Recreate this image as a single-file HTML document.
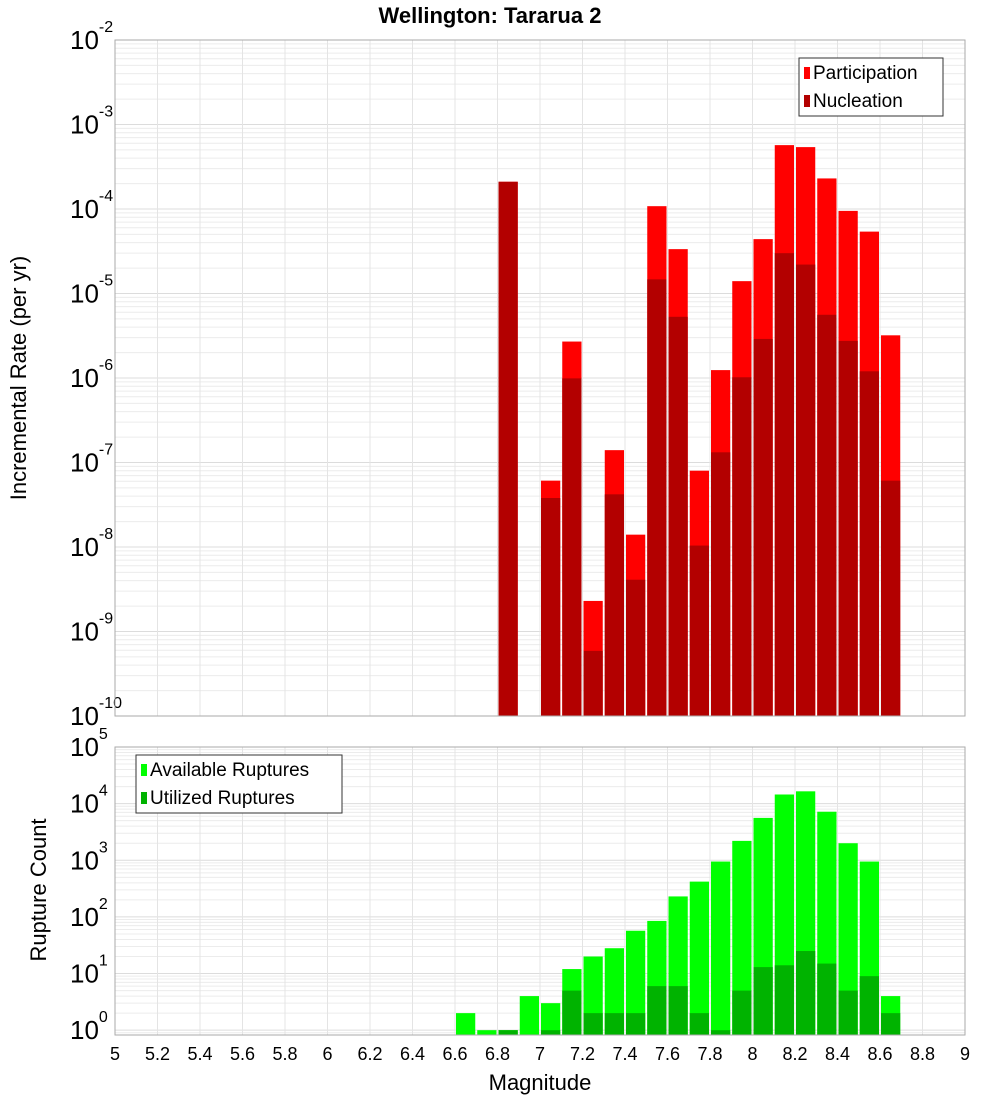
<!DOCTYPE html>
<html><head><meta charset="utf-8"><style>
body{margin:0;background:#fff;}
svg text{font-family:"Liberation Sans","DejaVu Sans",sans-serif;}
</style></head><body>
<svg id="chart" width="1000" height="1100" xmlns="http://www.w3.org/2000/svg">
<text x="490" y="23" text-anchor="middle" font-size="22" font-weight="bold">Wellington: Tararua 2</text>
<g id="top"></g><g id="bot"></g>
<text transform="translate(26,378) rotate(-90)" text-anchor="middle" font-size="22">Incremental Rate (per yr)</text>
<text transform="translate(46,890) rotate(-90)" text-anchor="middle" font-size="22">Rupture Count</text>
<text x="540" y="1090" text-anchor="middle" font-size="22">Magnitude</text>
</svg>
<script>
const mags=[6.6,6.7,6.8,6.9,7.0,7.1,7.2,7.3,7.4,7.5,7.6,7.7,7.8,7.9,8.0,8.1,8.2,8.3,8.4,8.5,8.6];
const participation=[0,0,2.1e-4,0,6.1e-8,2.7e-6,2.3e-9,1.4e-7,1.4e-8,1.08e-4,3.35e-5,8e-8,1.24e-6,1.4e-5,4.4e-5,5.7e-4,5.4e-4,2.3e-4,9.5e-5,5.4e-5,3.2e-6];
const nucleation=[0,0,2.1e-4,0,3.8e-8,9.9e-7,5.9e-10,4.2e-8,4.1e-9,1.47e-5,5.3e-6,1.04e-8,1.32e-7,1.02e-6,2.9e-6,3.0e-5,2.2e-5,5.6e-6,2.75e-6,1.2e-6,6.1e-8];
const available=[2,1,1,4,3,12,20,28,57,85,230,420,950,2200,5600,14500,16500,7200,2000,950,4];
const utilized=[0,0,1,0,1,5,2,2,2,6,6,2,1,5,13,14,25,15,5,9,2];
const xTicks=[5,5.2,5.4,5.6,5.8,6,6.2,6.4,6.6,6.8,7,7.2,7.4,7.6,7.8,8,8.2,8.4,8.6,8.8,9];
const topExps=[-2,-3,-4,-5,-6,-7,-8,-9,-10];
const botExps=[5,4,3,2,1,0];
const NS="http://www.w3.org/2000/svg";
const X0=115,X1=965;
const xs=m=>X0+(m-5)/4*(X1-X0);
function mk(p,t,a){const e=document.createElementNS(NS,t);for(const k in a)e.setAttribute(k,a[k]);p.appendChild(e);return e;}
function panel(g,top,bot,lmax,lmin,exps,name){
  const ys=v=>top+(lmax-Math.log10(v))/(lmax-lmin)*(bot-top);
  for(let d=Math.floor(lmin);d<lmax;d++)for(let k=1;k<10;k++){const y=ys(k*Math.pow(10,d));if(y<top||y>bot)continue;
    const l=mk(g,'line',{x1:X0,x2:X1,y1:y,y2:y,stroke:k==1?'#dcdcdc':'#ececec','stroke-width':1});
    }
  xTicks.forEach(t=>{const l=mk(g,'line',{x1:xs(t),x2:xs(t),y1:top,y2:bot,stroke:'#e4e4e4','stroke-width':1});
    });
  exps.forEach(e=>{const y=ys(Math.pow(10,e));const t=mk(g,'text',{x:70,y:y+9,'font-size':26});
    
    t.textContent='10';const s=mk(t,'tspan',{dy:-17,'font-size':16});s.textContent=String(e);});
  return ys;
}
const gt=document.getElementById('top'),gb=document.getElementById('bot');
const yt=panel(gt,40,716,-2,-10,topExps,'top');
const yb=panel(gb,747,1035,5,-0.085,botExps,'bottom');
function bars(g,vals,ys,bot,col,name){vals.forEach((v,i)=>{if(!(v>0))return;const x=xs(mags[i])+1,y=ys(v);
  const r=mk(g,'rect',{x:x,y:y,width:xs(mags[i]+0.1)-x-1,height:bot-y,fill:col});
  });}
bars(gt,participation,yt,716,'#ff0000','participation-bar');
bars(gt,nucleation,yt,716,'#b30000','nucleation-bar');
bars(gb,available,yb,1035,'#00ff00','available-bar');
bars(gb,utilized,yb,1035,'#00b300','utilized-bar');
[[40,716],[747,1035]].forEach(([a,b],i)=>{const r=mk(i?gb:gt,'rect',{x:X0,y:a,width:X1-X0,height:b-a,fill:'none',stroke:'#aaa','stroke-width':1});
  });
xTicks.forEach(t=>{const e=mk(gb,'text',{x:xs(t),y:1060,'font-size':18,'text-anchor':'middle'});
  e.textContent=String(t);});
function legend(g,x,y,w,items){const b=mk(g,'rect',{x:x,y:y,width:w,height:58,fill:'#fff',stroke:'#333','stroke-width':1});
  
  items.forEach(([lab,col],i)=>{const r=mk(g,'rect',{x:x+5,y:y+9+i*28,width:6,height:12,fill:col});
    
    const t=mk(g,'text',{x:x+14,y:y+21+i*28,'font-size':19});
    t.textContent=lab;});}
legend(gt,799,58,144,[['Participation','#ff0000'],['Nucleation','#b30000']]);
legend(gb,136,755,206,[['Available Ruptures','#00ff00'],['Utilized Ruptures','#00b300']]);
</script>
</body></html>
